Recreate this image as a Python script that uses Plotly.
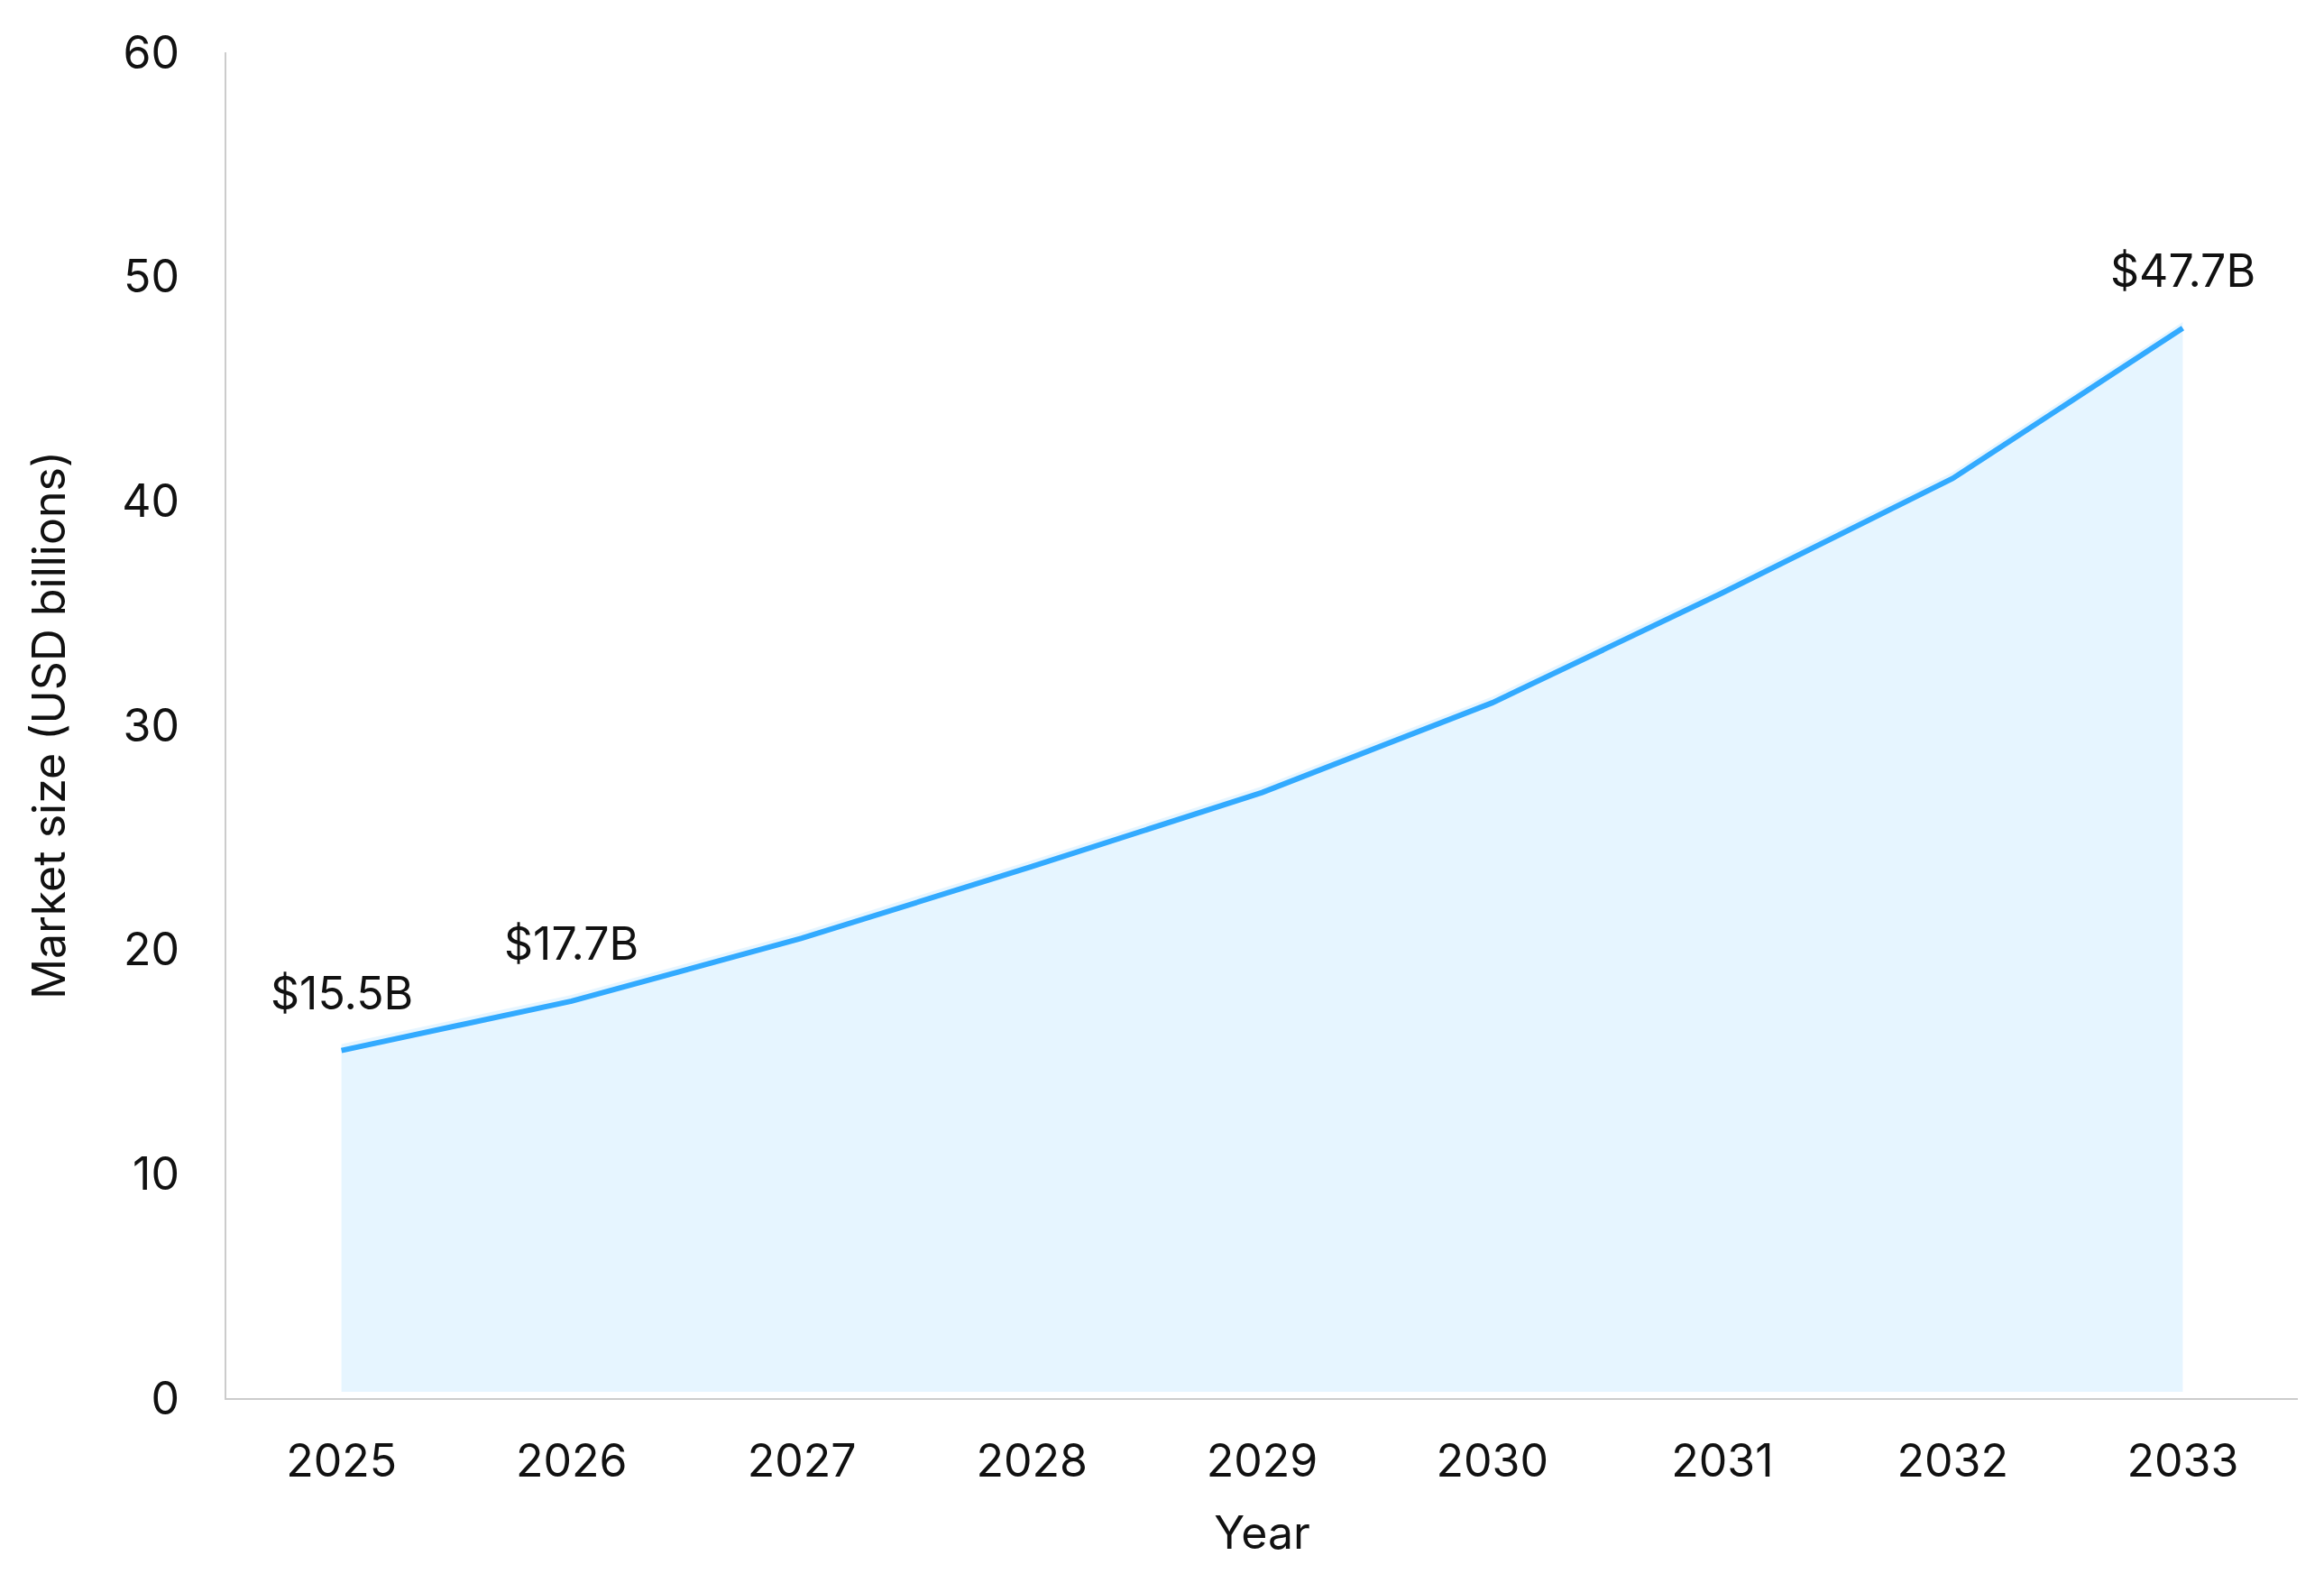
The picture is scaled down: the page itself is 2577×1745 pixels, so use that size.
import plotly.graph_objects as go

years = [2025, 2026, 2027, 2028, 2029, 2030, 2031, 2032, 2033]
market_size = [15.5, 17.7, 20.5, 23.7, 27.0, 31.0, 35.9, 41.0, 47.7]
labelled_years = [2025, 2026, 2033]
label_texts = ["$15.5B", "$17.7B", "$47.7B"]
y_ticks = [0, 10, 20, 30, 40, 50, 60]

LINE = "#33AAFF"
FILL = "rgba(51,170,255,0.12)"
FONT = "Inter"
fill_shift = 0.28  # the shaded area sits a touch above the line

fig = go.Figure()

# area sits on an overlaid axis shifted up slightly
fig.add_trace(go.Scatter(x=years, y=market_size, mode="lines", fill="tozeroy",
                         fillcolor=FILL, line=dict(width=0), yaxis="y2",
                         hoverinfo="skip", showlegend=False))
fig.add_trace(go.Scatter(x=years, y=market_size, mode="lines",
                         line=dict(color=LINE, width=6), showlegend=False))

for yr, txt in zip(labelled_years, label_texts):
    fig.add_annotation(x=yr, y=market_size[years.index(yr)], text=txt, showarrow=False,
                       yshift=64, font=dict(size=50, color="#111111", family=FONT))

fig.update_layout(
    width=2577, height=1745,
    paper_bgcolor="white", plot_bgcolor="white",
    margin=dict(l=243, r=37, t=50, b=203),
    font=dict(family=FONT, size=50, color="#111111"),
    xaxis=dict(range=[2024.5, 2033.5], tickvals=years, ticktext=[str(y) for y in years],
               showgrid=False, zeroline=False, showline=True, linecolor="#CCCCCC",
               linewidth=2, ticks="", ticklabelstandoff=25,
               title=dict(text="Year", standoff=34, font=dict(size=50))),
    yaxis=dict(range=[0, 60], tickvals=y_ticks, showgrid=False, zeroline=False,
               showline=True, linecolor="#CCCCCC", linewidth=2, ticks="",
               ticklabelstandoff=40,
               title=dict(text="Market size (USD billions)", standoff=47, font=dict(size=50))),
    yaxis2=dict(range=[-fill_shift, 60 - fill_shift], overlaying="y", visible=False),
)

fig.write_html("out.html")
